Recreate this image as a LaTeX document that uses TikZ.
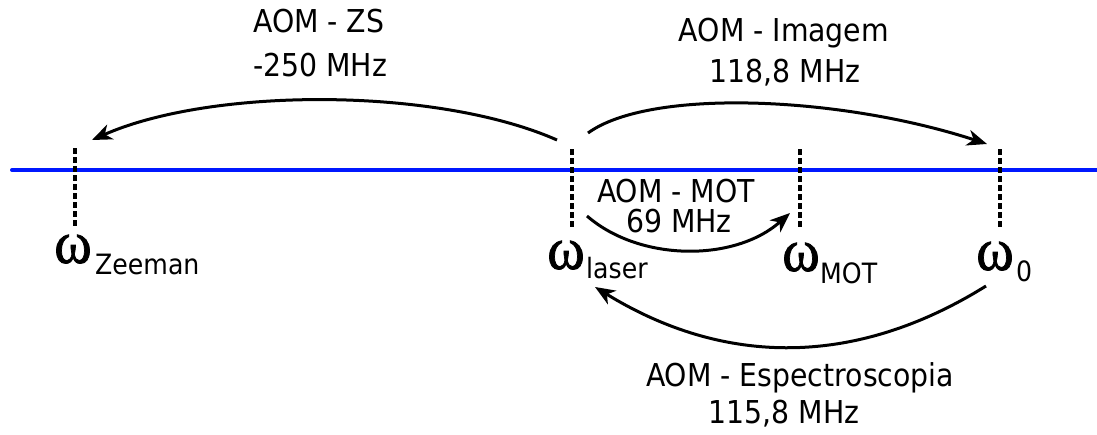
\documentclass[tikz,border=0pt]{standalone}
\usepackage{fontspec}
\usepackage{graphicx}
\setmainfont{DejaVu Sans Condensed}
\newfontfamily\omfont{Liberation Serif}[FakeBold=1.2]
\usetikzlibrary{arrows.meta}
\definecolor{axisblue}{RGB}{0,24,255}
\tikzset{
  lbl/.style={anchor=base, inner sep=0pt, font=\fontsize{31.5}{31.5}\selectfont},
  sublbl/.style={anchor=base west, inner sep=0pt, font=\fontsize{28}{28}\selectfont},
  omg/.style={anchor=base, inner sep=0pt, font=\omfont\fontsize{57}{57}\selectfont},
  tickline/.style={line width=3.5pt, dash pattern=on 6pt off 3pt},
  aomarrow/.style={line width=3pt, -{Stealth[length=20pt,width=16pt,inset=6pt]}},
  freqaxis/.style={draw=axisblue, line width=4pt, line cap=round}
}
\newcommand{\omg}{\scalebox{1}[1.06]{ω}}
\begin{document}
\begin{tikzpicture}[x=1pt,y=-1pt]
\useasboundingbox (0,0) rectangle (1097,434);
% axis
\coordinate (axL) at (12,170);
\coordinate (axR) at (1100,170);
\draw[freqaxis] (axL) -- (axR);
% ticks
\coordinate (tzT) at (75,148);  \coordinate (tzB) at (75,226);
\coordinate (tlT) at (572,149); \coordinate (tlB) at (572,227);
\coordinate (tmT) at (800,149); \coordinate (tmB) at (800,227);
\coordinate (toT) at (1000,149);\coordinate (toB) at (1000,227);
\draw[tickline] (tzT) -- (tzB);
\draw[tickline] (tlT) -- (tlB);
\draw[tickline] (tmT) -- (tmB);
\draw[tickline] (toT) -- (toB);
% frequency labels
\node[omg] (wz) at (73,263) {\omg};
\node[sublbl] (wzs) at (95,274) {Zeeman};
\node[omg] (wl) at (566,269) {\omg};
\node[sublbl] (wls) at (586,278) {laser};
\node[omg] (wm) at (801,271) {\omg};
\node[sublbl] (wms) at (820,283) {MOT};
\node[omg] (wo) at (995,270) {\omg};
\node[sublbl] (wos) at (1016,281) {0};
% arrows
\coordinate (zsS) at (557,140); \coordinate (zsE) at (92,140);
\draw[aomarrow] (zsS) .. controls (437,87) and (212,87) .. (zsE);
\coordinate (imS) at (588,133); \coordinate (imE) at (987,144);
\draw[aomarrow] (imS) .. controls (650,88) and (840,96) .. (imE);
\coordinate (moS) at (587,216); \coordinate (moE) at (790,213);
\draw[aomarrow] (moS) .. controls (640,262) and (735,262) .. (moE);
\coordinate (esS) at (986,286); \coordinate (esE) at (595,287);
\draw[aomarrow] (esS) .. controls (856,367) and (725,367) .. (esE);
% AOM labels
\node[lbl, anchor=base west] (zs1) at (253,32) {AOM - ZS};
\node[lbl, anchor=base west] (zs2) at (253,76) {-250 MHz};
\node[lbl] (im1) at (784,41) {AOM - Imagem};
\node[lbl] (im2) at (785,82) {118,8 MHz};
\node[lbl] (mot1) at (676,202) {AOM - MOT};
\node[lbl] (mot2) at (679,232) {69 MHz};
\node[lbl] (esp1) at (800,386) {AOM - Espectroscopia};
\node[lbl] (esp2) at (784,423) {115,8 MHz};
\end{tikzpicture}
\end{document}
